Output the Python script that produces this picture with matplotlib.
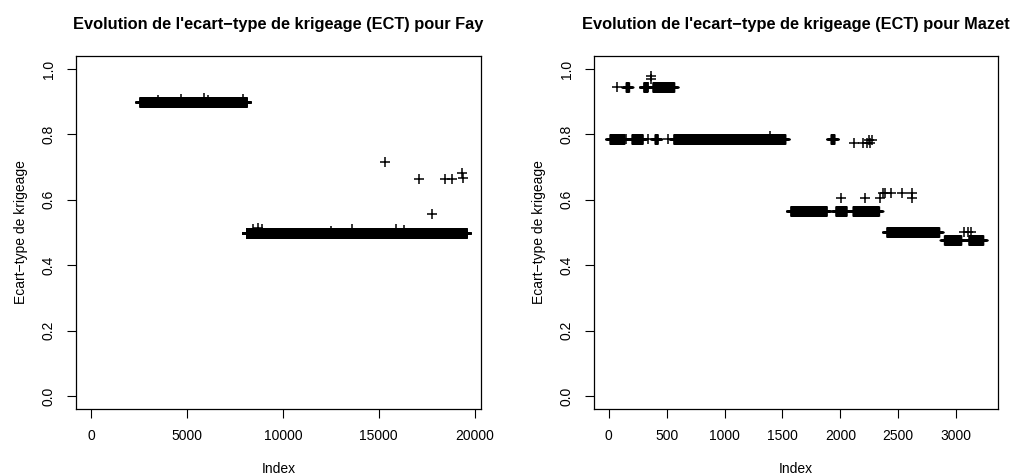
import numpy as np
import matplotlib
matplotlib.use("Agg")
import matplotlib.pyplot as plt

plt.rcParams["font.family"] = ["Liberation Sans", "DejaVu Sans"]

# --- Fay : runs of constant ECT (first index, last index, value) + isolated points
fay_run_start = [2570, 8110]
fay_run_end = [8070, 19540]
fay_run_value = [0.900, 0.500]
fay_pts_x = [3500, 4700, 5900, 6100, 7900, 8450, 8700, 8900, 12500, 13600,
             15340, 15900, 16300, 17085, 17785, 18445, 18795, 19355, 19380]
fay_pts_y = [0.905, 0.908, 0.910, 0.905, 0.908, 0.512, 0.515, 0.510, 0.505, 0.510,
             0.716, 0.512, 0.508, 0.665, 0.557, 0.665, 0.665, 0.683, 0.668]
fay_n = 19547

# --- Mazet
mazet_run_start = [10, 200, 400, 560, 1920, 150, 300, 380, 1570, 1960, 2110, 2400, 2900, 3110]
mazet_run_end = [130, 290, 420, 1520, 1945, 170, 330, 560, 1880, 2050, 2330, 2850, 3040, 3230]
mazet_run_value = [0.786, 0.786, 0.786, 0.786, 0.786, 0.946, 0.946, 0.946,
                   0.565, 0.565, 0.565, 0.502, 0.478, 0.478]
mazet_pts_x = [72, 342, 365, 365, 150, 340, 512, 1395, 2120, 2200, 2230, 2260, 2250, 2270,
               2005, 2215, 2345, 2620, 2370, 2390, 2440, 2530, 2615, 3070, 3100, 3130]
mazet_pts_y = [0.946, 0.946, 0.980, 0.970, 0.786, 0.786, 0.786, 0.795, 0.774, 0.774, 0.774,
               0.774, 0.782, 0.782, 0.605, 0.605, 0.605, 0.605, 0.620, 0.620, 0.620,
               0.620, 0.620, 0.502, 0.502, 0.502]
mazet_n = 3233

xticks_fay = [0, 5000, 10000, 15000, 20000]
xticks_mazet = [0, 500, 1000, 1500, 2000, 2500, 3000]
yticks = [0.0, 0.2, 0.4, 0.6, 0.8, 1.0]

W, H = 1014, 475
fig = plt.figure(figsize=(W / 100, H / 100), dpi=100)


def panel(left_px, right_px, starts, ends, values, px, py, n, xticks, title):
    top_px, bottom_px = 56, 409
    ax = fig.add_axes([left_px / W, 1 - bottom_px / H,
                       (right_px - left_px) / W, (bottom_px - top_px) / H])
    for s, e, v in zip(starts, ends, values):
        xs = np.arange(s, e + 1)
        ax.plot(xs, np.full(len(xs), v), ls="none", marker="+", ms=6.5, mew=1.0, color="black")
    ax.plot(px, py, ls="none", marker="+", ms=6.5, mew=1.1, color="black")

    pad = 0.04 * (n - 1)
    ax.set_xlim(1 - pad, n + pad)
    ax.set_ylim(-0.04, 1.04)
    ax.set_xticks(xticks)
    ax.set_xticklabels([str(t) for t in xticks])
    ax.set_yticks(yticks)
    ax.set_yticklabels([f"{t:.1f}" for t in yticks], rotation=90, va="center")
    ax.tick_params(direction="out", length=6.5, width=0.8, labelsize=10, pad=8)
    for sp in ax.spines.values():
        sp.set_linewidth(0.9)

    ax.set_xlabel("Index", fontsize=10)
    ax.xaxis.set_label_coords(0.5, -0.17)
    ax.xaxis.label.set_va("center")
    ax.set_ylabel("Ecart\u2212type de krigeage", fontsize=10)
    ax.yaxis.set_label_coords(-0.136, 0.5)
    ax.yaxis.label.set_va("center")

    fig.text((left_px + right_px) / 2 / W, 1 - 25 / H, title,
             ha="center", va="center", fontsize=11.8, fontweight="bold")
    return ax


panel(76, 481, fay_run_start, fay_run_end, fay_run_value, fay_pts_x, fay_pts_y,
      fay_n, xticks_fay, "Evolution de l'ecart\u2212type de krigeage (ECT) pour Fay")
panel(594, 998, mazet_run_start, mazet_run_end, mazet_run_value, mazet_pts_x, mazet_pts_y,
      mazet_n, xticks_mazet, "Evolution de l'ecart\u2212type de krigeage (ECT) pour Mazet")

fig.savefig("out.png", dpi=100)
plt.close(fig)
